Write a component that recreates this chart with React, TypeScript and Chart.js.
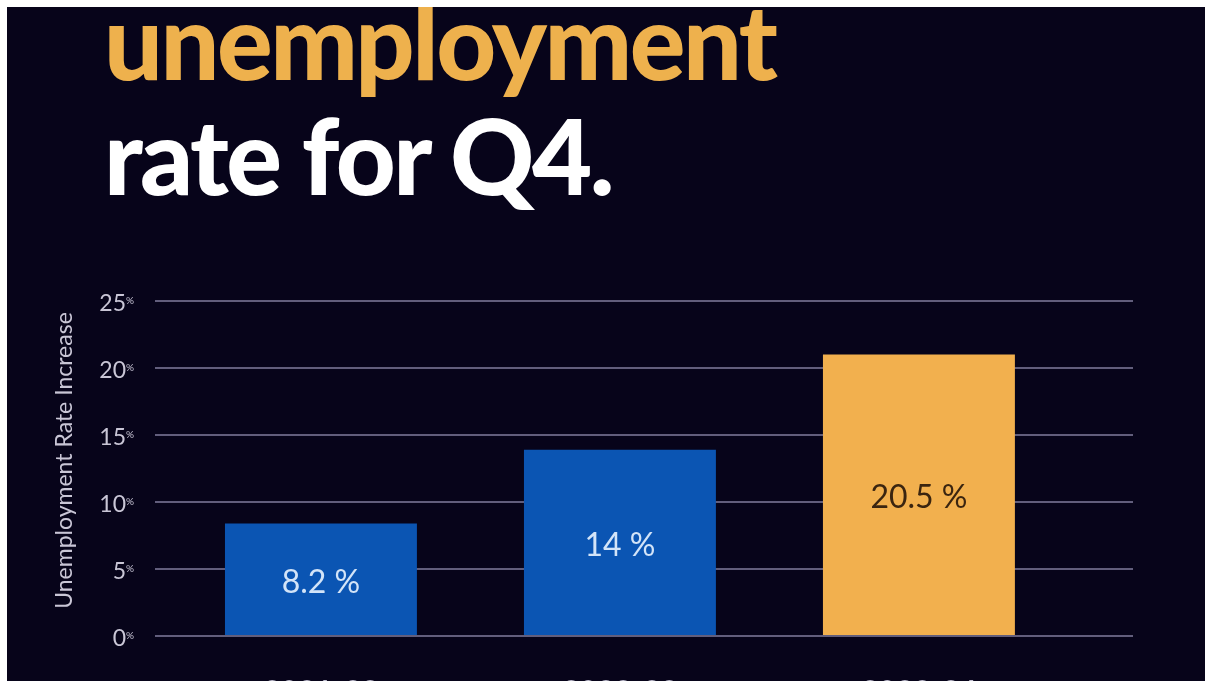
import React, { useEffect, useRef } from "react";
import { Chart, registerables } from "chart.js";

Chart.register(...registerables);

const categories = ["2021-22", "2022-23", "2023-24"];
const barValues = [8.4, 13.9, 21.0];
const valueLabels = ["8.2 %", "14 %", "20.5 %"];
const barColors = ["#0b55b3", "#0b55b3", "#f2b04e"];
const labelColors = ["#d3e4f8", "#d3e4f8", "#3b2510"];
const yTicks = [0, 5, 10, 15, 20, 25];
const titleLine1 = "unemployment";
const titleLine2 = "rate for Q4.";
const yAxisTitle = "Unemployment Rate Increase";

const BG = "#07041a";

export default function App() {
  const canvasRef = useRef<HTMLCanvasElement | null>(null);

  useEffect(() => {
    const canvas = canvasRef.current;
    if (!canvas) return;

    const valueLabelPlugin = {
      id: "valueLabels",
      afterDatasetsDraw(chart: any) {
        const ctx = chart.ctx;
        const meta = chart.getDatasetMeta(0);
        ctx.save();
        ctx.font = "400 32px Lato";
        ctx.textAlign = "center";
        ctx.textBaseline = "middle";
        meta.data.forEach((bar: any, i: number) => {
          const cy = (bar.y + bar.base) / 2;
          ctx.fillStyle = labelColors[i];
          ctx.fillText(valueLabels[i], bar.x, cy + 3);
        });
        ctx.restore();
      },
      afterDraw(chart: any) {
        const ctx = chart.ctx;
        const ys = chart.scales.y;
        const area = chart.chartArea;
        ctx.save();
        ctx.font = "400 10px Lato";
        ctx.textAlign = "left";
        ctx.textBaseline = "top";
        ctx.fillStyle = "#c9c6d6";
        ys.ticks.forEach((t: any) => {
          const py = ys.getPixelForValue(t.value);
          ctx.fillText("%", area.left - 29, py - 5);
        });
        // y-axis title, centred a little above the plot middle as in the reference
        ctx.font = "400 23px Lato";
        ctx.textAlign = "center";
        ctx.textBaseline = "middle";
        ctx.translate(58, (area.top + area.bottom) / 2 - 8);
        ctx.rotate(-Math.PI / 2);
        ctx.fillText(yAxisTitle, 0, 0);
        ctx.restore();
      },
    };

    const chart = new Chart(canvas, {
      type: "bar",
      data: {
        datasets: [
          {
            data: barValues.map((v, i) => ({ x: i, y: v })),
            backgroundColor: barColors,
            borderWidth: 0,
            categoryPercentage: 1,
            barPercentage: 0.642,
          } as any,
        ],
      },
      options: {
        animation: false,
        responsive: true,
        maintainAspectRatio: false,
        layout: { padding: { left: 0, top: 294, right: 72, bottom: 0 } },
        plugins: {
          legend: { display: false },
          tooltip: { enabled: false },
        },
        scales: {
          x: {
            type: "linear",
            offset: false,
            min: -0.555,
            max: 2.716,
            grid: { display: false },
            border: { display: false },
            afterBuildTicks(scale: any) {
              scale.ticks = categories.map((_, i) => ({ value: i }));
            },
            afterFit(scale: any) {
              scale.height = 45;
            },
            ticks: {
              color: "#bdbbcc",
              font: { family: "Lato", size: 30, weight: "bold" },
              padding: 30,
              autoSkip: false,
              maxRotation: 0,
              callback: (v: any) => categories[Math.round(Number(v))] ?? "",
            },
          },
          y: {
            min: 0,
            max: 25,
            afterBuildTicks(scale: any) {
              scale.ticks = yTicks.map((v) => ({ value: v }));
            },
            afterFit(scale: any) {
              scale.width = 148;
            },
            grid: {
              color: "#625e7c",
              lineWidth: 2,
              drawTicks: false,
            },
            border: { display: false },
            ticks: {
              color: "#c9c6d6",
              font: { family: "Lato", size: 23 },
              padding: 29,
              labelOffset: 3,
              callback: (v: any) => String(v),
            },
            title: { display: false },
          },
        },
      },
      plugins: [valueLabelPlugin],
    });

    return () => chart.destroy();
  }, []);

  const titleStyle: React.CSSProperties = {
    position: "absolute",
    left: 97,
    fontFamily: "Lato, sans-serif",
    fontWeight: 900,
    fontSize: 104,
    letterSpacing: "-2.5px",
    lineHeight: "116px",
    whiteSpace: "nowrap",
    margin: 0,
  };

  return (
    <div
      style={{
        position: "fixed",
        left: 7,
        top: 7,
        right: 0,
        bottom: 0,
        background: BG,
        overflow: "hidden",
      }}
    >
      <div style={{ ...titleStyle, top: -25, color: "#eeb14d" }}>{titleLine1}</div>
      <div style={{ ...titleStyle, top: 90, color: "#ffffff" }}>{titleLine2}</div>
      <div style={{ position: "absolute", left: 0, top: 0, right: 0, bottom: 0 }}>
        <canvas ref={canvasRef} />
      </div>
    </div>
  );
}
